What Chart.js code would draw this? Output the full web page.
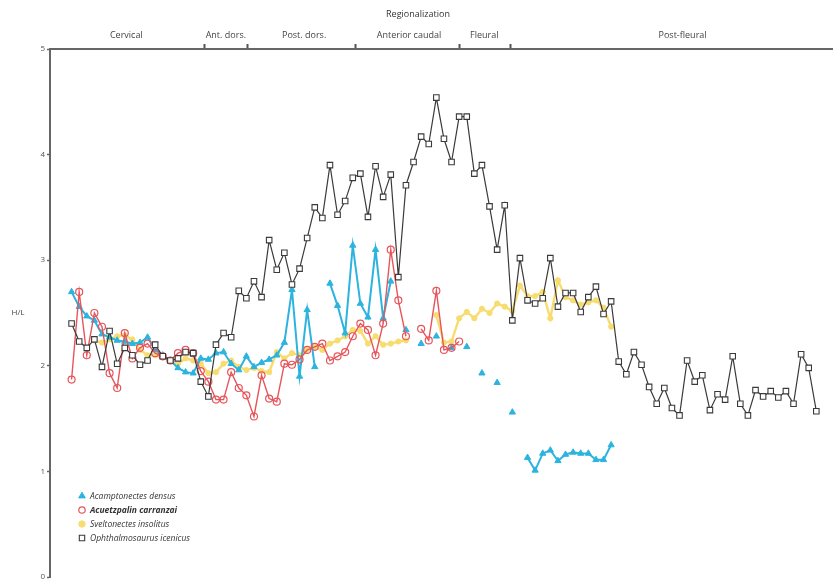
<!DOCTYPE html>
<html>
<head>
<meta charset="utf-8">
<script src="https://cdn.jsdelivr.net/npm/chart.js@4.4.1/dist/chart.umd.min.js"></script>
<style>
  html, body { margin: 0; padding: 0; background: #fff; }
</style>
</head>
<body>
<canvas id="hl" width="838" height="588"></canvas>
<script>
var acamptonectes = [
  2.70, 2.56, 2.47, 2.43, 2.30, 2.27, 2.24, 2.23, 2.21, 2.22,
  2.27, 2.15, 2.10, 2.05, 1.98, 1.94, 1.93, 2.07, 2.06, 2.12,
  2.13, 2.02, 1.96, 2.09, 1.99, 2.03, 2.06, 2.10, 2.22, 2.72,
  1.90, 2.53, 1.99, null, 2.78, 2.57, 2.31, 3.14, 2.59, 2.46,
  3.10, 2.45, 2.80, null, 2.34, null, 2.21, null, 2.28, null,
  2.17, null, 2.18, null, 1.93, null, 1.84, null, 1.56, null,
  1.13, 1.01, 1.17, 1.20, 1.10, 1.16, 1.18, 1.17, 1.17, 1.11,
  1.11, 1.25
];
var acuetzpalin = [
  1.87, 2.70, 2.10, 2.50, 2.37, 1.93, 1.79, 2.31, 2.07, 2.17,
  2.21, 2.12, 2.09, 2.05, 2.12, 2.15, 2.12, 1.95, 1.85, 1.68,
  1.68, 1.94, 1.79, 1.72, 1.52, 1.91, 1.69, 1.66, 2.02, 2.01,
  2.06, 2.15, 2.18, 2.21, 2.05, 2.09, 2.13, 2.28, 2.40, 2.34,
  2.10, 2.40, 3.10, 2.62, 2.28, null, 2.35, 2.24, 2.71, 2.15,
  2.17, 2.23
];
var sveltonectes = [
  null, null, null, 2.24, 2.22, 2.25, 2.28, 2.29, 2.25, 2.15,
  2.10, 2.10, 2.08, 2.05, 2.02, 2.07, 2.05, 2.02, 1.93, 1.94,
  2.02, 2.05, 1.99, 1.96, 1.98, 1.95, 1.94, 2.13, 2.07, 2.12,
  2.10, 2.15, 2.18, 2.15, 2.21, 2.24, 2.28, 2.34, 2.33, 2.21,
  2.28, 2.20, 2.21, 2.23, 2.24, null, null, null, 2.48, 2.22,
  2.23, 2.45, 2.51, 2.45, 2.54, 2.50, 2.59, 2.56, 2.52, 2.76,
  2.66, 2.66, 2.70, 2.45, 2.81, 2.65, 2.62, 2.58, 2.60, 2.62,
  2.55, 2.37
];
var ophthalmosaurus = [
  2.40, 2.23, 2.17, 2.25, 1.99, 2.33, 2.02, 2.17, 2.10, 2.01,
  2.05, 2.20, 2.09, 2.05, 2.07, 2.13, 2.12, 1.85, 1.71, 2.20,
  2.31, 2.27, 2.71, 2.64, 2.80, 2.65, 3.19, 2.91, 3.07, 2.77,
  2.92, 3.21, 3.50, 3.40, 3.90, 3.43, 3.56, 3.78, 3.82, 3.41,
  3.89, 3.60, 3.81, 2.84, 3.71, 3.93, 4.17, 4.10, 4.54, 4.15,
  3.93, 4.36, 4.36, 3.82, 3.90, 3.51, 3.10, 3.52, 2.43, 3.02,
  2.62, 2.59, 2.64, 3.02, 2.56, 2.69, 2.69, 2.51, 2.65, 2.75,
  2.49, 2.61, 2.04, 1.92, 2.13, 2.01, 1.80, 1.64, 1.79, 1.60,
  1.53, 2.05, 1.85, 1.91, 1.58, 1.73, 1.68, 2.09, 1.64, 1.53,
  1.77, 1.71, 1.76, 1.70, 1.76, 1.64, 2.11, 1.98, 1.57
];

// vertebral position along the column
var vertebra = ophthalmosaurus.map(function (v, i) { return i + 1; });

// regionalization bar on top
var regionNames = ['Cervical', 'Ant. dors.', 'Post. dors.', 'Anterior caudal', 'Fleural', 'Post-fleural'];
var regionCenters = [8.2, 21.3, 31.6, 45.4, 55.3, 81.4];
var regionBounds = [18.5, 24.1, 38.4, 52, 58.8];
var yTicks = [0, 1, 2, 3, 4, 5];

function pts(arr) {
  return arr.map(function (v, i) { return { x: vertebra[i], y: v }; });
}

function marker(c, style, x, y, r, fill, stroke, lw) {
  c.save();
  c.beginPath();
  if (style === 'triangle') {
    c.moveTo(x, y - r);
    c.lineTo(x + r * 0.87, y + r * 0.5);
    c.lineTo(x - r * 0.87, y + r * 0.5);
    c.closePath();
  } else if (style === 'rect') {
    var s = r * Math.SQRT1_2;
    c.rect(x - s, y - s, 2 * s, 2 * s);
  } else {
    c.arc(x, y, r, 0, Math.PI * 2);
  }
  c.fillStyle = fill;
  c.fill();
  c.lineWidth = lw;
  c.strokeStyle = stroke;
  c.stroke();
  c.restore();
}

// y title written horizontally + legend box in the lower left corner
var extras = {
  id: 'extras',
  afterDraw: function (chart) {
    var c = chart.ctx;
    var ys = chart.scales.y;
    c.save();
    c.fillStyle = '#444';
    c.font = '8px "Open Sans"';
    c.textAlign = 'center';
    c.textBaseline = 'middle';
    c.fillText('H/L', 18, (ys.top + ys.bottom) / 2);

    var lx = 82, ly = 496, step = 14;
    chart.data.datasets.forEach(function (ds, i) {
      var y = ly + i * step;
      marker(c, ds.pointStyle, lx, y, ds.pointStyle === 'circle' ? 3.2 : 3.8,
        ds.pointBackgroundColor, ds.pointBorderColor, ds.pointBorderWidth);
      c.fillStyle = '#333';
      c.font = (i === 1 ? 'italic bold ' : 'italic ') + '8.5px "Open Sans"';
      c.textAlign = 'left';
      c.fillText(ds.label, lx + 8, y + 0.5);
    });
    c.restore();
  }
};

var ctx = document.getElementById('hl').getContext('2d');

var hl = new Chart(ctx, {
  type: 'line',
  data: {
    datasets: [{
      label: 'Acamptonectes densus',
      data: pts(acamptonectes),
      borderColor: '#2cb4df',
      borderWidth: 2,
      pointStyle: 'triangle',
      pointRadius: 3.6,
      pointBackgroundColor: '#2cb4df',
      pointBorderColor: '#2cb4df',
      pointBorderWidth: 1,
      order: 2
    }, {
      label: 'Acuetzpalin carranzai',
      data: pts(acuetzpalin),
      borderColor: '#e6555b',
      borderWidth: 1.4,
      pointStyle: 'circle',
      pointRadius: 3.5,
      pointBackgroundColor: 'rgba(255,255,255,0)',
      pointBorderColor: '#e6555b',
      pointBorderWidth: 1.2,
      order: 1
    }, {
      label: 'Sveltonectes insolitus',
      data: pts(sveltonectes),
      borderColor: '#f7dc70',
      borderWidth: 2.4,
      pointStyle: 'circle',
      pointRadius: 2.6,
      pointBackgroundColor: '#f7dc70',
      pointBorderColor: '#f7dc70',
      pointBorderWidth: 1,
      order: 3
    }, {
      label: 'Ophthalmosaurus icenicus',
      data: pts(ophthalmosaurus),
      borderColor: '#3a3a3a',
      borderWidth: 1.2,
      pointStyle: 'rect',
      pointRadius: 3.9,
      pointBackgroundColor: '#ffffff',
      pointBorderColor: '#3a3a3a',
      pointBorderWidth: 1.1,
      order: 0
    }]
  },
  options: {
    responsive: false,
    animation: false,
    spanGaps: false,
    layout: { padding: { left: 0, right: 2, top: 0, bottom: 11 } },
    plugins: {
      legend: { display: false },
      tooltip: { enabled: false },
      title: {
        display: true,
        text: 'Regionalization',
        color: '#333',
        font: { family: '"Open Sans"', size: 9, weight: 'normal' },
        padding: { top: 9, bottom: 3 }
      }
    },
    scales: {
      x: {
        type: 'linear',
        display: false,
        min: -1.84,
        max: 101.17
      },
      xTop: {
        type: 'linear',
        position: 'top',
        min: -1.84,
        max: 101.17,
        afterFit: function (s) { s.height = 26.2; },
        afterBuildTicks: function (s) {
          s.ticks = regionBounds.concat(regionCenters)
            .sort(function (a, b) { return a - b; })
            .map(function (v) { return { value: v }; });
        },
        ticks: {
          autoSkip: false,
          maxRotation: 0,
          padding: 3,
          color: '#444',
          font: { family: '"Open Sans"', size: 9 },
          callback: function (value) {
            var i = regionCenters.indexOf(value);
            return i >= 0 ? regionNames[i] : '';
          }
        },
        grid: {
          drawOnChartArea: false,
          tickLength: 5,
          tickWidth: 2,
          tickColor: function (c) {
            return c.tick && regionBounds.indexOf(c.tick.value) >= 0 ? '#555' : 'rgba(0,0,0,0)';
          }
        },
        border: { display: true, color: '#666', width: 2 }
      },
      y: {
        min: 0,
        max: 5,
        afterFit: function (s) { s.width = 50; },
        afterBuildTicks: function (s) {
          s.ticks = yTicks.map(function (v) { return { value: v }; });
        },
        ticks: {
          padding: 2,
          color: '#555',
          font: { family: '"Open Sans"', size: 8 }
        },
        grid: {
          drawOnChartArea: false,
          tickLength: 3,
          tickWidth: 1.5,
          tickColor: '#666'
        },
        border: { display: true, color: '#666', width: 2 }
      }
    }
  },
  plugins: [extras]
});
</script>
</body>
</html>
